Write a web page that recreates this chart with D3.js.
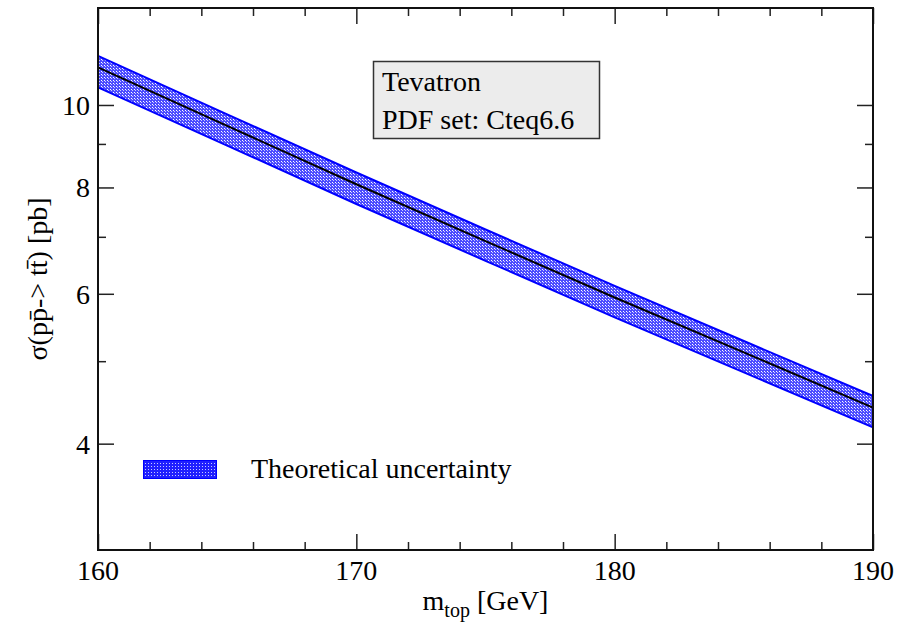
<!DOCTYPE html>
<html>
<head>
<meta charset="utf-8">
<script src="https://cdn.jsdelivr.net/npm/d3@7"></script>
<style>
  body { margin: 0; background: #fff; }
  text { font-family: "Liberation Serif", "Times New Roman", serif; }
</style>
</head>
<body>
<div id="chart"></div>
<script>
// data (pb)
var mtop = [160, 165, 170, 175, 180, 185, 190];
var sigma_central = [11.07, 9.45, 8.07, 6.92, 5.94, 5.12, 4.41];
var sigma_upper = [11.42, 9.75, 8.33, 7.14, 6.13, 5.28, 4.55];
var sigma_lower = [10.49, 8.96, 7.65, 6.56, 5.63, 4.85, 4.18];

var x_major = [160, 170, 180, 190];
var x_minor = [162, 164, 166, 168, 172, 174, 176, 178, 182, 184, 186, 188];
var y_major = [4, 6, 8, 10];
var y_minor = [5, 7, 9];

var box_lines = ["Tevatron", "PDF set: Cteq6.6"];
var legend_label = "Theoretical uncertainty";

var margin = {top: 8, right: 41, bottom: 73, left: 98},
    width = 914 - margin.left - margin.right,
    height = 623 - margin.top - margin.bottom;

var svg = d3.select("#chart")
    .append("svg")
    .attr("width", 914)
    .attr("height", 623);

var defs = svg.append("defs");

// dotted fill like the xmgrace pattern
var pat = defs.append("pattern")
    .attr("id", "band_fill")
    .attr("width", 3).attr("height", 3)
    .attr("patternUnits", "userSpaceOnUse");
pat.append("rect").attr("width", 3).attr("height", 3).attr("fill", "#4c4cff");
pat.append("rect").attr("x", 0).attr("y", 0).attr("width", 1).attr("height", 1).attr("fill", "#ffffff");
pat.append("rect").attr("x", 1).attr("y", 1).attr("width", 1).attr("height", 1).attr("fill", "#c8c8ff");

var pat2 = defs.append("pattern")
    .attr("id", "legend_fill")
    .attr("width", 3).attr("height", 3)
    .attr("patternUnits", "userSpaceOnUse");
pat2.append("rect").attr("width", 3).attr("height", 3).attr("fill", "#2020ff");
pat2.append("rect").attr("x", 1).attr("y", 1).attr("width", 1).attr("height", 1).attr("fill", "#c8c8ff");

var g = svg.append("g")
    .attr("transform", "translate(" + margin.left + "," + margin.top + ")");

var x = d3.scaleLinear().domain([160, 190]).range([0, width]);
var y = d3.scaleLog().domain([3, 13]).range([height, 0]);

var rows = mtop.map(function(m, i) {
    return {m: m, c: sigma_central[i], hi: sigma_upper[i], lo: sigma_lower[i]};
});

// uncertainty band
var area = d3.area()
    .x(function(d) { return x(d.m); })
    .y0(function(d) { return y(d.lo); })
    .y1(function(d) { return y(d.hi); });

g.append("path")
    .datum(rows)
    .attr("d", area)
    .attr("fill", "url(#band_fill)");

g.append("path")
    .datum(rows)
    .attr("d", d3.line().x(function(d) { return x(d.m); }).y(function(d) { return y(d.hi); }))
    .attr("fill", "none").attr("stroke", "#0000ff").attr("stroke-width", 2);

g.append("path")
    .datum(rows)
    .attr("d", d3.line().x(function(d) { return x(d.m); }).y(function(d) { return y(d.lo); }))
    .attr("fill", "none").attr("stroke", "#0000ff").attr("stroke-width", 2);

g.append("path")
    .datum(rows)
    .attr("d", d3.line().x(function(d) { return x(d.m); }).y(function(d) { return y(d.c); }))
    .attr("fill", "none").attr("stroke", "#000").attr("stroke-width", 2);

// ticks on all four sides, pointing in
function tickAxis(axis, values, size, tx, ty) {
    var a = g.append("g")
        .attr("transform", "translate(" + tx + "," + ty + ")")
        .call(axis.tickValues(values).tickSize(size).tickFormat(""));
    a.select(".domain").remove();
    a.selectAll("line").attr("stroke", "#222").attr("stroke-width", 1.5);
}

tickAxis(d3.axisBottom(x), x_major, -16, 0, height);
tickAxis(d3.axisBottom(x), x_minor, -8, 0, height);
tickAxis(d3.axisTop(x), x_major, -16, 0, 0);
tickAxis(d3.axisTop(x), x_minor, -8, 0, 0);
tickAxis(d3.axisLeft(y), y_major, -16, 0, 0);
tickAxis(d3.axisLeft(y), y_minor, -8, 0, 0);
tickAxis(d3.axisRight(y), y_major, -16, width, 0);
tickAxis(d3.axisRight(y), y_minor, -8, width, 0);

// frame
g.append("rect")
    .attr("width", width).attr("height", height)
    .attr("fill", "none").attr("stroke", "#111").attr("stroke-width", 2);

// tick labels
g.selectAll(".xlab")
    .data(x_major)
    .enter().append("text")
    .attr("x", function(d) { return x(d); })
    .attr("y", height + 30)
    .attr("text-anchor", "middle")
    .attr("font-size", "28px")
    .text(function(d) { return d; });

g.selectAll(".ylab")
    .data(y_major)
    .enter().append("text")
    .attr("x", -8)
    .attr("y", function(d) { return y(d) + 10; })
    .attr("text-anchor", "end")
    .attr("font-size", "28px")
    .text(function(d) { return d; });

// axis titles
var xt = svg.append("text")
    .attr("x", margin.left + width / 2)
    .attr("y", 610)
    .attr("text-anchor", "middle")
    .attr("font-size", "28px");
xt.append("tspan").text("m");
xt.append("tspan").attr("font-size", "20px").attr("dy", 7).text("top");
xt.append("tspan").attr("dy", -7).text(" [GeV]");

svg.append("text")
    .attr("transform", "translate(47," + (margin.top + height / 2) + ") rotate(-90)")
    .attr("text-anchor", "middle")
    .attr("font-size", "28px")
    .text("σ(pp\u0304-> tt\u0304) [pb]");

// info box
svg.append("rect")
    .attr("x", 373.5).attr("y", 61.5)
    .attr("width", 226).attr("height", 77)
    .attr("fill", "#ececec")
    .attr("stroke", "#333").attr("stroke-width", 1.5);

svg.selectAll(".boxtxt")
    .data(box_lines)
    .enter().append("text")
    .attr("x", 382)
    .attr("y", function(d, i) { return 91 + i * 37.5; })
    .attr("font-size", "28px")
    .text(function(d) { return d; });

// legend
svg.append("rect")
    .attr("x", 143.5).attr("y", 460.5)
    .attr("width", 73).attr("height", 18)
    .attr("fill", "url(#legend_fill)")
    .attr("stroke", "#0000ff").attr("stroke-width", 1);

svg.append("text")
    .attr("x", 251)
    .attr("y", 478)
    .attr("font-size", "28px")
    .text(legend_label);
</script>
</body>
</html>
